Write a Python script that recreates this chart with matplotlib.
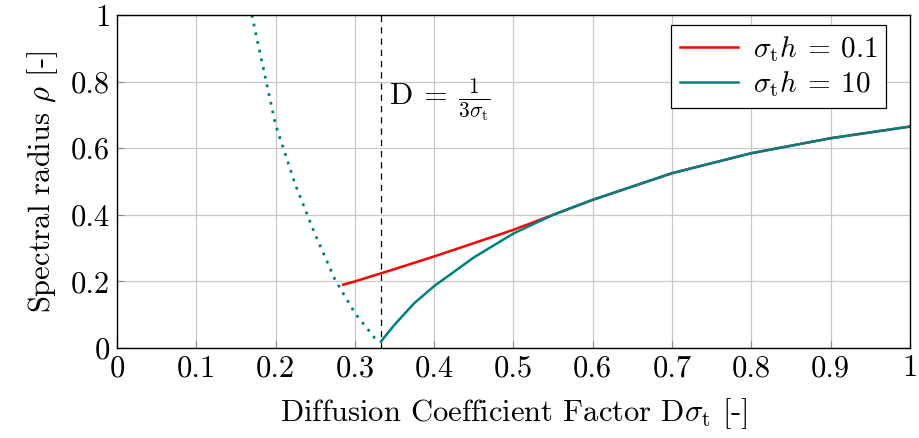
import matplotlib
matplotlib.use("Agg")
import matplotlib.pyplot as plt

plt.rcParams['font.family'] = 'serif'
plt.rcParams['font.serif'] = ['cmr10']
plt.rcParams['mathtext.fontset'] = 'cm'
plt.rcParams['axes.formatter.use_mathtext'] = True

# dotted branch (below D = 1/(3 sigma_t))
x_dot = [0.17, 0.2, 0.225, 0.25, 0.275, 0.3, 0.325, 0.333]
y_dot = [1.0, 0.67, 0.49, 0.34, 0.205, 0.105, 0.03, 0.02]

# sigma_t h = 0.1
x_red = [0.285, 0.3, 0.35, 0.4, 0.45, 0.5, 0.55, 0.6, 0.7, 0.8, 0.9, 1.0]
y_red = [0.19, 0.20, 0.237, 0.275, 0.315, 0.355, 0.40, 0.445, 0.525, 0.585, 0.63, 0.665]

# sigma_t h = 10
x_teal = [0.333, 0.35, 0.375, 0.4, 0.45, 0.5, 0.55, 0.6, 0.7, 0.8, 0.9, 1.0]
y_teal = [0.02, 0.07, 0.135, 0.186, 0.272, 0.344, 0.40, 0.445, 0.525, 0.585, 0.63, 0.665]

xticks = [0, 0.1, 0.2, 0.3, 0.4, 0.5, 0.6, 0.7, 0.8, 0.9, 1]
yticks = [0, 0.2, 0.4, 0.6, 0.8, 1]

fig = plt.figure(figsize=(9.2, 4.38), dpi=100)
ax = fig.add_axes([117/920, 1 - 348/438, 793/920, 333/438])

ax.grid(True, color='#c8c8c8', linewidth=0.9)
ax.set_axisbelow(True)

ax.axvline(1/3, color='black', ls=(0, (5, 4)), linewidth=0.9)

ax.plot(x_red, y_red, color='red', linewidth=1.8, label=r'$\sigma_\mathrm{t}h\:=\:0.1$')
ax.plot(x_teal, y_teal, color='teal', linewidth=1.8, label=r'$\sigma_\mathrm{t}h\:=\:10$')
ax.plot(x_dot, y_dot, color='teal', linewidth=2.0, ls=(0, (1, 2.2)))

ax.text(0.343, 0.745, r'$\mathrm{D}\:=\:\frac{1}{3\sigma_\mathrm{t}}$', fontsize=22,
        va='center', ha='left')

ax.set_xlim(0, 1)
ax.set_ylim(0, 1)
ax.set_xticks(xticks)
ax.set_yticks(yticks)
ax.set_xticklabels([str(t) for t in xticks])
ax.set_yticklabels([str(t) for t in yticks])
ax.tick_params(direction='in', color='#888888', labelsize=22, length=5, pad=5)

ax.set_xlabel(r'Diffusion Coefficient Factor D$\sigma_\mathrm{t}$ [-]', fontsize=22, labelpad=10)
ax.set_ylabel(r'Spectral radius $\rho$ [-]', fontsize=22, labelpad=8)

for s in ax.spines.values():
    s.set_linewidth(1.0)

leg = ax.legend(loc='upper right', bbox_to_anchor=(0.970, 0.970), fontsize=21,
                frameon=True, fancybox=False, edgecolor='black', framealpha=1,
                handlelength=2.0, borderaxespad=0, labelspacing=0.2,
                handletextpad=0.5, borderpad=0.3)
leg.get_frame().set_linewidth(0.9)

fig.savefig('out.png', dpi=100)
